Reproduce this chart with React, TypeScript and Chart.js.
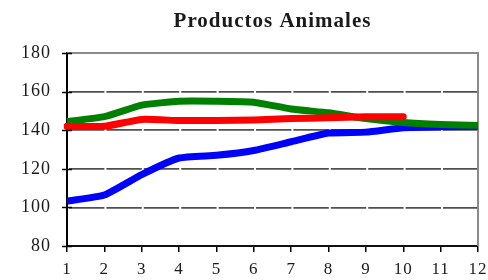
import React, { useEffect, useRef } from "react";
import { Chart, registerables } from "chart.js";

Chart.register(...registerables);

const TITLE = "Productos Animales";
const CATEGORIES = ["1", "2", "3", "4", "5", "6", "7", "8", "9", "10", "11", "12"];
const BLUE_SERIES = [103.3, 106.4, 117, 125.6, 127, 129.5, 134, 138.5, 139, 141.3, 141.8, 142];
const GREEN_SERIES = [144.5, 147, 153, 155, 155, 154.5, 151, 149, 146, 144, 143, 142.5];
const RED_SERIES = [142, 142, 145.6, 145, 145, 145.3, 146, 146.5, 147, 147, null, null];
const Y_MIN = 80;
const Y_MAX = 180;
const Y_STEP = 10;
const Y_LABEL_STEP = 20;

const FONT = "'Liberation Serif', 'Times New Roman', serif";

const framePlugin = {
  id: "frame",
  beforeDraw(chart: any) {
    const ctx = chart.ctx as any;
    if ("letterSpacing" in ctx) ctx.letterSpacing = "1px";
  },
  beforeDatasetsDraw(chart: any) {
    const { ctx, chartArea } = chart;
    ctx.save();
    ctx.strokeStyle = "#8a8a8a";
    ctx.lineWidth = 2;
    ctx.beginPath();
    ctx.moveTo(chartArea.left, chartArea.top);
    ctx.lineTo(chartArea.right, chartArea.top);
    ctx.lineTo(chartArea.right, chartArea.bottom);
    ctx.stroke();
    ctx.restore();
  },
  afterDraw(chart: any) {
    const { ctx, chartArea, scales } = chart;
    const y = scales.y;
    ctx.save();
    ctx.strokeStyle = "#000";
    ctx.lineWidth = 1.5;
    y.ticks.forEach((t: any) => {
      const py = Math.round(y.getPixelForValue(t.value)) + 0.5;
      ctx.beginPath();
      ctx.moveTo(chartArea.left - 5, py);
      ctx.lineTo(chartArea.left + 5, py);
      ctx.stroke();
    });
    ctx.fillStyle = "#1a1a1a";
    ctx.font = "bold 21px " + FONT;
    if ("letterSpacing" in ctx) (ctx as any).letterSpacing = "1px";
    ctx.textAlign = "center";
    ctx.textBaseline = "middle";
    ctx.fillText(TITLE, (chartArea.left + chartArea.right) / 2, 22);
    ctx.restore();
  },
};

export default function App() {
  const ref = useRef<HTMLCanvasElement>(null);
  useEffect(() => {
    if (!ref.current) return;
    const lineCommon = {
      borderWidth: 7,
      pointRadius: 0,
      pointHoverRadius: 0,
      tension: 0.15,
      borderCapStyle: "round" as const,
      borderJoinStyle: "round" as const,
      fill: false,
    };
    const chart = new Chart(ref.current, {
      type: "line",
      data: {
        labels: CATEGORIES,
        datasets: [
          { ...lineCommon, label: "Rojo", data: RED_SERIES, borderColor: "#ff0000", order: 0 },
          { ...lineCommon, label: "Verde", data: GREEN_SERIES, borderColor: "#008000", order: 1, borderCapStyle: "butt" as const },
          { ...lineCommon, label: "Azul", data: BLUE_SERIES, borderColor: "#0000ff", order: 2, borderCapStyle: "butt" as const },
        ],
      },
      options: {
        animation: false,
        responsive: false,
        maintainAspectRatio: false,
        layout: { padding: { top: 53, right: 10, left: 0, bottom: 0 } },
        plugins: {
          legend: { display: false },
          tooltip: { enabled: false },
          title: { display: false },
        },
        scales: {
          x: {
            type: "category",
            offset: false,
            grid: {
              display: true,
              drawOnChartArea: false,
              drawTicks: true,
              tickLength: 6,
              color: "#000",
              lineWidth: 1.5,
            },
            border: { display: true, color: "#111", width: 2 },
            ticks: {
              color: "#1a1a1a",
              font: { family: FONT, size: 17 },
              padding: 7,
              maxRotation: 0,
              autoSkip: false,
            },
            afterFit(scale: any) {
              scale.height = 34;
              scale.paddingLeft = 0;
              scale.paddingRight = 0;
            },
          },
          y: {
            min: Y_MIN,
            max: Y_MAX,
            grid: {
              display: true,
              drawOnChartArea: true,
              drawTicks: false,
              lineWidth: 1.8,
              color: (c: any) => {
                const v = c.tick ? c.tick.value : null;
                if (v === null || v === Y_MIN || v === Y_MAX) return "rgba(0,0,0,0)";
                return v % Y_LABEL_STEP === 0 ? "#505050" : "rgba(0,0,0,0)";
              },
            },
            border: { display: true, color: "#000", width: 2, dash: [35.4, 2], dashOffset: -1 },
            ticks: {
              stepSize: Y_STEP,
              color: "#1a1a1a",
              font: { family: FONT, size: 18 },
              padding: 16,
              callback: (v: any) => (Number(v) % Y_LABEL_STEP === 0 ? String(v) : ""),
            },
            afterFit(scale: any) {
              scale.width = 67;
            },
          },
        },
      },
      plugins: [framePlugin],
    });
    return () => chart.destroy();
  }, []);
  return (
    <div style={{ position: "absolute", left: 0, top: 0, width: 488, height: 280, background: "#fff" }}>
      <canvas ref={ref} width={488} height={280} style={{ display: "block", width: 488, height: 280 }} />
    </div>
  );
}
